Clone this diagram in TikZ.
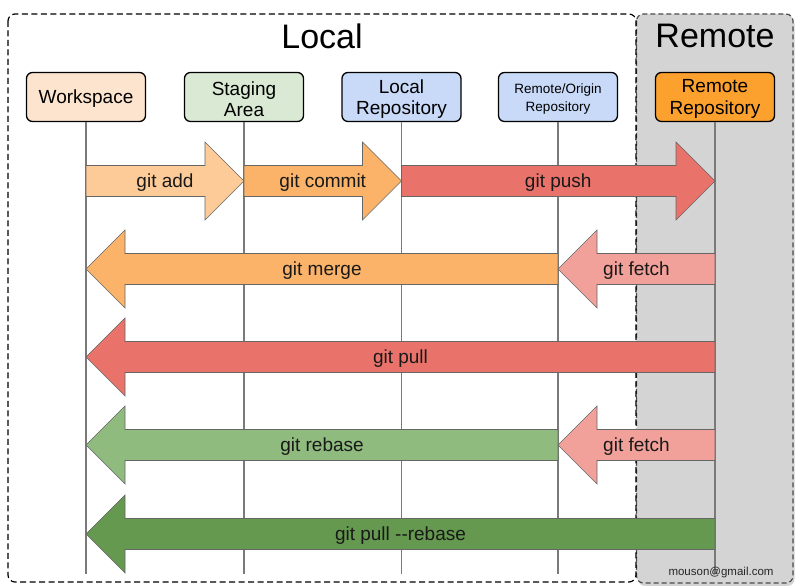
\documentclass[tikz,border=0pt]{standalone}
\usepackage{fontspec}
\setmainfont{Liberation Sans}
\usetikzlibrary{calc,shadows}

\definecolor{wsfill}{HTML}{FCE4CE}
\definecolor{safill}{HTML}{D9E9D3}
\definecolor{lrfill}{HTML}{C9DAF8}
\definecolor{rrfill}{HTML}{FCA02E}
\definecolor{remotebg}{HTML}{D4D4D4}
\definecolor{addfill}{HTML}{FDCB98}
\definecolor{commitfill}{HTML}{FBB36A}
\definecolor{pushfill}{HTML}{E9736A}
\definecolor{fetchfill}{HTML}{F2A09A}
\definecolor{rebasefill}{HTML}{8FBB7E}
\definecolor{prebasefill}{HTML}{65994F}
\definecolor{lanegray}{HTML}{7A7A7A}

% body half-height and head length of the fat arrows
\def\bodyh{15.5}
\def\headh{39}
\def\headl{39}

% \gitarrow{tail node}{tip node}{row y}{fill colour}{label}
\newcommand\gitarrow[5]{%
  \path[fatarrow,fill=#4] let \p1=(#1), \p2=(#2),
      \n1={ifthenelse(\x2>\x1,1,-1)} in
    (\x1,{#3+\bodyh})
    -- ({\x2-(\n1)*\headl},{#3+\bodyh})
    -- ({\x2-(\n1)*\headl},{#3+\headh})
    -- (\x2,{#3})
    -- ({\x2-(\n1)*\headl},{#3-\headh})
    -- ({\x2-(\n1)*\headl},{#3-\bodyh})
    -- (\x1,{#3-\bodyh}) -- cycle
    node[arrowlabel] at ({(\x1+\x2)/2},{#3}) {#5};%
}

% \stagebox[options]{name}{x}{fill}{text}: box plus its centred caption
\newcommand\stagebox[5][]{%
  \node[stage, fill=#4] (#2) at (#3,491) {};
  \node[stagetext, #1] (#2-text) at ($(#2.center)+(0,-2)$) {#5};%
}

\tikzset{
  area/.style={rounded corners=7pt, line width=1.2pt, dash pattern=on 6pt off 3.5pt},
  title/.style={font=\fontsize{34}{36}\selectfont},
  stage/.style={draw=black, line width=1.3pt, rounded corners=6pt,
    minimum width=119pt, minimum height=49pt, inner sep=0pt},
  stagetext/.style={inner sep=0pt, align=center,
    font=\fontsize{19}{21.5}\selectfont},
  lane/.style={draw=lanegray, line width=1.2pt},
  fatarrow/.style={draw=black!60, line width=0.6pt},
  arrowlabel/.style={font=\fontsize{19}{21}\selectfont, text=black!90, yshift=-1.5pt},
}

\begin{document}
\begin{tikzpicture}[x=1pt,y=1pt]
\useasboundingbox (0,0) rectangle (797,588);

% remote area (grey, with shadow) and local area
\draw[area, fill=remotebg, draw=black!70, dash pattern=on 5pt off 3pt,
      drop shadow={shadow xshift=1.5pt, shadow yshift=-3pt, opacity=0.35}]
  (636.5,574) rectangle (793,5);
\draw[area] (8,574) rectangle (636,6);

\node[title] (localtitle) at (322,552) {Local};
\node[title] (remotetitle) at (715,552) {Remote};

% the five places a change can live
\stagebox{ws}{86}{wsfill}{Workspace}
\stagebox{sa}{244}{safill}{Staging\\Area}
\stagebox{lr}{401.5}{lrfill}{Local\\Repository}
\stagebox[font=\fontsize{13.5}{17.5}\selectfont]{ro}{558}{lrfill}{Remote/Origin\\Repository}
\stagebox{rr}{715}{rrfill}{Remote\\Repository}

% swim lanes
\foreach \n in {ws,sa,lr,ro,rr}{
  \coordinate (\n-end) at (\n |- 0,14);
  \draw[lane] (\n.south) -- (\n-end);
}

% commands
\gitarrow{ws}{sa}{407}{addfill}{git add}
\gitarrow{sa}{lr}{407}{commitfill}{git commit}
\gitarrow{lr}{rr}{407}{pushfill}{git push}

\gitarrow{ro}{ws}{319}{commitfill}{git merge}
\gitarrow{rr}{ro}{319}{fetchfill}{git fetch}

\gitarrow{rr}{ws}{231}{pushfill}{git pull}

\gitarrow{ro}{ws}{143}{rebasefill}{git rebase}
\gitarrow{rr}{ro}{143}{fetchfill}{git fetch}

\gitarrow{rr}{ws}{54}{prebasefill}{git pull -{}-rebase}

\node[font=\fontsize{11.5}{12}\selectfont, text=black!85] (mail) at (721,15) {mouson@gmail.com};
\end{tikzpicture}
\end{document}
